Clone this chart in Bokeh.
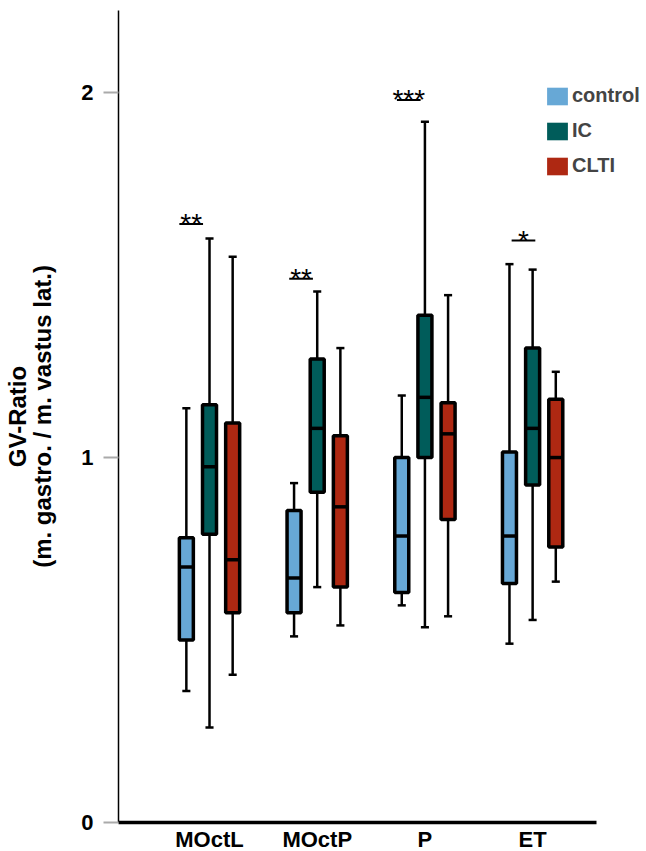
import numpy as np
from bokeh.plotting import figure
from bokeh.models import (Range1d, FixedTicker, Legend, LegendItem,
                          ColumnDataSource)
from bokeh.embed import file_html
from bokeh.resources import INLINE
from bokeh.core.properties import value

# ---------------- data ----------------
categories = ["MOctL", "MOctP", "P", "ET"]
series = ["control", "IC", "CLTI"]
colors = ["#67a8d6", "#005c5a", "#ae2812"]

control_lo = [0.36, 0.51, 0.595, 0.49]
control_q1 = [0.50, 0.575, 0.63, 0.655]
control_med = [0.70, 0.67, 0.785, 0.785]
control_q3 = [0.78, 0.855, 1.0, 1.015]
control_hi = [1.135, 0.93, 1.17, 1.53]

ic_lo = [0.26, 0.645, 0.535, 0.555]
ic_q1 = [0.79, 0.905, 1.0, 0.925]
ic_med = [0.975, 1.08, 1.165, 1.08]
ic_q3 = [1.145, 1.27, 1.39, 1.30]
ic_hi = [1.60, 1.455, 1.92, 1.515]

clti_lo = [0.405, 0.54, 0.565, 0.66]
clti_q1 = [0.575, 0.645, 0.83, 0.755]
clti_med = [0.72, 0.865, 1.065, 1.0]
clti_q3 = [1.095, 1.06, 1.15, 1.16]
clti_hi = [1.55, 1.30, 1.445, 1.235]

sig_labels = ["**", "**", "***", "*"]
sig_y = [1.64, 1.49, 1.98, 1.595]

y_ticks = [0, 1, 2]
y_title_lines = ["GV-Ratio", "(m. gastro. / m. vastus lat.)"]

# ---------------- styling constants ----------------
FONT = "Liberation Sans"
offsets = [-0.215, 0.0, 0.215]
box_w = 0.13
cap_w = 0.075
sig_dx = [-0.17, -0.15, -0.15, -0.085]
sig_half = 0.11
X0, XAXIS_END, X1 = 0.155, 4.594, 5.048

p = figure(frame_width=527, frame_height=812,
           x_range=Range1d(X0, X1), y_range=Range1d(0, 2.225),
           output_backend="svg", toolbar_location=None,
           min_border_left=117, min_border_right=0,
           min_border_top=10, min_border_bottom=0)
p.outline_line_color = None
p.xgrid.visible = False
p.ygrid.visible = False
p.background_fill_color = "white"
p.border_fill_color = "white"

# y axis
p.yaxis.axis_label = "\n".join(y_title_lines)
p.yaxis.axis_label_text_font = FONT
p.yaxis.axis_label_text_font_size = "24px"
p.yaxis.axis_label_text_font_style = "bold"
p.yaxis.axis_label_text_color = "black"
p.yaxis.axis_label_text_line_height = 0.95
p.yaxis.axis_label_standoff = 22
p.yaxis.ticker = FixedTicker(ticks=y_ticks)
p.yaxis.axis_line_color = "black"
p.yaxis.axis_line_width = 1.5
p.yaxis.major_tick_line_color = "#aaaaaa"
p.yaxis.major_tick_line_width = 2
p.yaxis.major_tick_out = 15
p.yaxis.major_tick_in = 0
p.yaxis.minor_tick_line_color = None
p.yaxis.major_label_text_font_size = "22px"
p.yaxis.major_label_text_font_style = "bold"
p.yaxis.major_label_text_font = FONT
p.yaxis.major_label_text_color = "black"
p.yaxis.major_label_standoff = 10

# x axis
xpos = [i + 1 for i in range(len(categories))]
p.xaxis.bounds = (X0, XAXIS_END)
p.xaxis.ticker = FixedTicker(ticks=xpos)
p.xaxis.major_label_overrides = {x: c for x, c in zip(xpos, categories)}
p.xaxis.axis_line_color = "black"
p.xaxis.axis_line_width = 3.5
p.xaxis.major_tick_line_color = None
p.xaxis.minor_tick_line_color = None
p.xaxis.major_tick_out = 0
p.xaxis.major_label_text_font_size = "22px"
p.xaxis.major_label_text_font_style = "bold"
p.xaxis.major_label_text_font = FONT
p.xaxis.major_label_text_color = "black"
p.xaxis.major_label_standoff = 4

stats = [
    (control_lo, control_q1, control_med, control_q3, control_hi),
    (ic_lo, ic_q1, ic_med, ic_q3, ic_hi),
    (clti_lo, clti_q1, clti_med, clti_q3, clti_hi),
]

for (lo, q1, med, q3, hi), off, col in zip(stats, offsets, colors):
    x = [xp + off for xp in xpos]
    src = ColumnDataSource(dict(
        x=x, lo=lo, q1=q1, med=med, q3=q3, hi=hi,
        xl=[v - box_w / 2 for v in x], xr=[v + box_w / 2 for v in x],
        cl=[v - cap_w / 2 for v in x], cr=[v + cap_w / 2 for v in x],
    ))
    p.segment(x0="x", y0="q3", x1="x", y1="hi", source=src,
              line_color="black", line_width=2.5)
    p.segment(x0="x", y0="q1", x1="x", y1="lo", source=src,
              line_color="black", line_width=2.5)
    p.segment(x0="cl", y0="hi", x1="cr", y1="hi", source=src,
              line_color="black", line_width=2.5)
    p.segment(x0="cl", y0="lo", x1="cr", y1="lo", source=src,
              line_color="black", line_width=2.5)
    p.vbar(x="x", width=box_w, top="q3", bottom="q1", source=src,
           fill_color=col, line_color="black", line_width=3.5)
    p.segment(x0="xl", y0="med", x1="xr", y1="med", source=src,
              line_color="black", line_width=3.5)

# significance markers
sx = [xp + d for xp, d in zip(xpos, sig_dx)]
sig_src = ColumnDataSource(dict(
    x=sx, y=sig_y, t=sig_labels,
    x0=[v - sig_half for v in sx], x1=[v + sig_half for v in sx]))
p.segment(x0="x0", y0="y", x1="x1", y1="y", source=sig_src,
          line_color="black", line_width=2)
p.text(x="x", y="y", text="t", source=sig_src, text_align="center",
       text_baseline="middle", text_font=value(FONT), text_font_size="28px",
       text_color="black")

# legend (swatches without outline, zero-height proxy bars)
items = []
for s, c in zip(series, colors):
    r = p.vbar(x=xpos[:1], top=[0], bottom=[0], width=0.1,
               fill_color=c, line_color=None)
    items.append(LegendItem(label=s, renderers=[r]))
legend = Legend(items=items, location=(426, 645), glyph_width=26,
                glyph_height=22, label_standoff=2, spacing=12, padding=0,
                margin=0, border_line_color=None, background_fill_alpha=0,
                label_text_font_size="20px", label_text_font_style="bold",
                label_text_font=FONT, label_height=22)
p.add_layout(legend)

open("out.html", "w").write(file_html(p, INLINE))
